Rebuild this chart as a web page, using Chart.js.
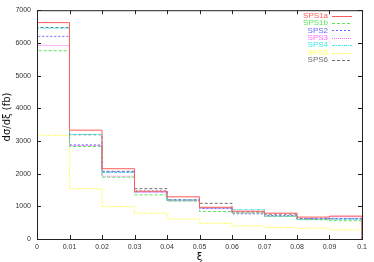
<!DOCTYPE html>
<html><head><meta charset="utf-8">
<script src="https://cdn.jsdelivr.net/npm/chart.js@4/dist/chart.umd.min.js"></script>
<style>html,body{margin:0;padding:0;background:#fff}#wrap{width:374px;height:262px}</style>
</head><body><div id="wrap"><canvas id="c" width="374" height="262"></canvas></div>
<script>
const binEdges = [0,0.01,0.02,0.03,0.04,0.05,0.06,0.07,0.08,0.09,0.1];
const seriesNames = ["SPS1a","SPS1b","SPS2","SPS3","SPS4","SPS5","SPS6"];
const sps1a = [6620,3330,2150,1460,1290,970,850,790,670,700];
const sps1b = [5760,2830,1890,1350,1160,840,800,700,590,560];
const sps2  = [6200,2880,2050,1470,1190,940,770,720,620,620];
const sps3  = [5920,2860,1920,1420,1170,930,800,700,610,680];
const sps4  = [6450,3200,2040,1440,1190,950,900,690,600,610];
const sps5  = [3170,1540,990,790,610,480,400,350,330,280];
const sps6  = [6470,3190,2070,1540,1200,1090,830,760,630,620];
const yTicks = [0,1000,2000,3000,4000,5000,6000,7000];
const xTicks = [0,0.01,0.02,0.03,0.04,0.05,0.06,0.07,0.08,0.09,0.1];

const seriesValues = [sps1a,sps1b,sps2,sps3,sps4,sps5,sps6];
const colors = ["#ff5a5a","#5ae65a","#6a6aff","#ff6aff","#40e8e8","#ffff60","#707070"];
const dashes = [[],[3,2],[2,2],[1,1],[3,1,1,1],[3,1,1,1],[3,2]];

function stepPoints(vals){
  const pts=[{x:binEdges[0],y:0}];
  vals.forEach((v,i)=>pts.push({x:binEdges[i],y:v}));
  pts.push({x:binEdges[binEdges.length-1],y:vals[vals.length-1]});
  pts.push({x:binEdges[binEdges.length-1],y:0});
  return pts;
}

const datasets = seriesNames.map((n,i)=>({
  label:n, data:stepPoints(seriesValues[i]), stepped:'before',
  borderColor:colors[i], borderWidth:1, borderDash:dashes[i],
  pointRadius:0, fill:false
}));

const frame = {
  id:'frame',
  afterDatasetsDraw(chart){
    const {ctx, chartArea:a, scales:{x,y}} = chart;
    ctx.save();
    ctx.strokeStyle='#222'; ctx.lineWidth=1; ctx.setLineDash([]);
    ctx.strokeRect(a.left+0.5,a.top+0.5,a.right-a.left,a.bottom-a.top);
    ctx.beginPath();
    xTicks.forEach(t=>{const px=Math.round(x.getPixelForValue(t))+0.5;
      ctx.moveTo(px,a.bottom);ctx.lineTo(px,a.bottom-4);
      ctx.moveTo(px,a.top);ctx.lineTo(px,a.top+4);});
    yTicks.forEach(t=>{const py=Math.round(y.getPixelForValue(t))+0.5;
      ctx.moveTo(a.left,py);ctx.lineTo(a.left+4,py);
      ctx.moveTo(a.right,py);ctx.lineTo(a.right-4,py);});
    ctx.stroke();
    // legend
    ctx.font='8px "Liberation Sans", Arial, sans-serif';
    ctx.textAlign='right'; ctx.textBaseline='middle';
    chart.data.datasets.forEach((d,i)=>{
      const yy=15.5+i*7.4;
      ctx.fillStyle=d.borderColor; ctx.fillText(d.label,328,yy);
      ctx.strokeStyle=d.borderColor; ctx.setLineDash(d.borderDash);
      ctx.beginPath(); ctx.moveTo(332,Math.round(yy)+0.5); ctx.lineTo(352,Math.round(yy)+0.5); ctx.stroke();
    });
    ctx.setLineDash([]);
    // axis titles
    ctx.fillStyle='#111'; ctx.font='10px "DejaVu Sans", sans-serif';
    ctx.textAlign='center'; ctx.textBaseline='middle';
    ctx.fillText('ξ',(a.left+a.right)/2,257);
    ctx.save(); ctx.translate(7,117); ctx.rotate(-Math.PI/2);
    ctx.fillText('dσ/dξ (fb)',0,0); ctx.restore();
    ctx.restore();
  }
};

new Chart(document.getElementById('c'),{
  type:'line',
  data:{datasets},
  options:{
    responsive:false, animation:false, devicePixelRatio:1,
    layout:{padding:{top:8,right:12,left:0,bottom:0}},
    plugins:{legend:{display:false},tooltip:{enabled:false}},
    scales:{
      x:{type:'linear',min:0,max:0.1,
        afterBuildTicks(s){s.ticks=xTicks.map(v=>({value:v}));},
        afterFit(s){s.height=23;},
        grid:{display:false,drawTicks:false}, border:{display:false},
        ticks:{padding:4,maxRotation:0,autoSkip:false,color:'#333',font:{size:7,family:'"Liberation Sans", Arial, sans-serif'},
          callback:v=>String(+(+v).toFixed(2))}},
      y:{type:'linear',min:0,max:7000,
        afterBuildTicks(s){s.ticks=yTicks.map(v=>({value:v}));},
        afterFit(s){s.width=37;},
        grid:{display:false,drawTicks:false}, border:{display:false},
        ticks:{padding:6,autoSkip:false,color:'#333',font:{size:7,family:'"Liberation Sans", Arial, sans-serif'},
          callback:v=>String(v)}}
    }
  },
  plugins:[frame]
});
</script></body></html>
